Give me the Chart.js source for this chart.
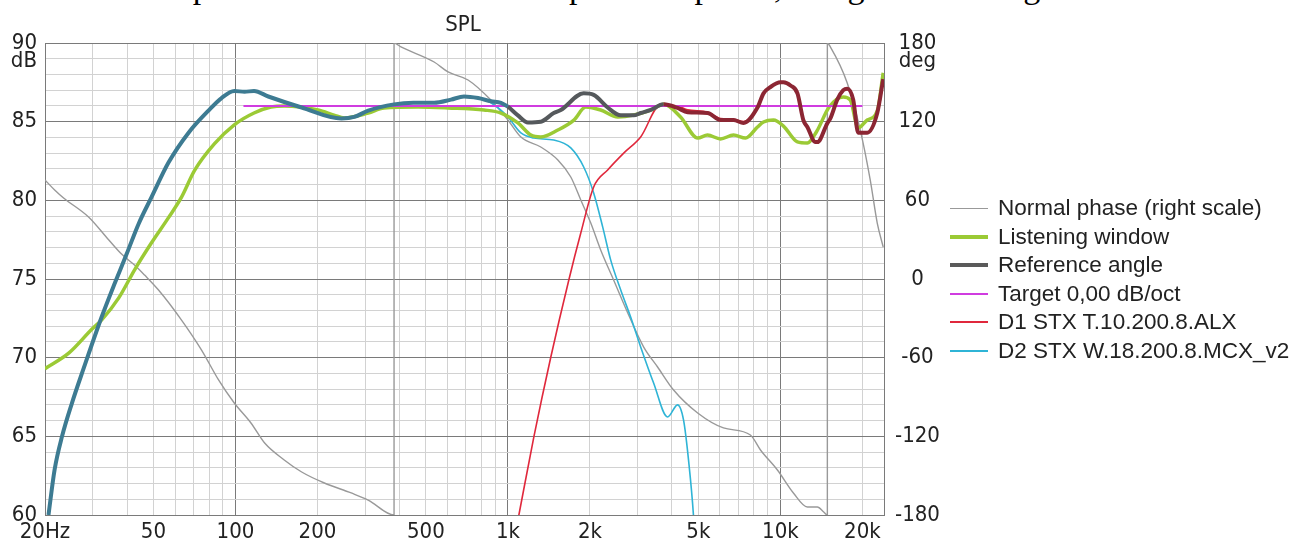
<!DOCTYPE html>
<html lang="en">
<head>
<meta charset="utf-8">
<script src="https://cdn.jsdelivr.net/npm/chart.js@4.4.1/dist/chart.umd.min.js"></script>
<style>
    html, body { margin: 0; padding: 0; background: #fff; }
    body { position: relative; width: 1298px; height: 544px; overflow: hidden; font-family: "Liberation Sans", Arial, sans-serif; }
    #chart { position: absolute; left: 0; top: 0; }
    .page-text { position: absolute; top: -30px; font: 34px/34px "Liberation Serif", "Times New Roman", serif; color: #000; white-space: nowrap; }
    #title { position: absolute; left: 463px; top: 11px; transform: translateX(-50%); font: 22px "Liberation Sans Narrow", "DejaVu Sans Condensed", "Liberation Sans", sans-serif; color: #222; }
    #legend { position: absolute; left: 950px; top: 194px; font-size: 22.5px; color: #222; }
    #legend .row { display: flex; align-items: center; height: 28.5px; white-space: nowrap; }
    #legend .swatch { display: inline-block; width: 38px; margin-right: 10px; }
</style>
</head>
<body>
<!-- clipped line of the surrounding document -->
<span class="page-text" style="left:3px">Simulated output of the crossover</span>
<span class="page-text" style="left:569px">phase response, using the listening window.</span>

<canvas id="chart" width="1298" height="544"></canvas>
<div id="title">SPL</div>
<div id="legend"></div>

<script type="text/javascript">
    // x axis labels
    var xTickValues = [20, 50, 100, 200, 500, 1000, 2000, 5000, 10000, 20000];
    var xTickText = ['20Hz', '50', '100', '200', '500', '1k', '2k', '5k', '10k', '20k'];

    // Reference angle (dB)
    var refFreq = [20.6, 21.7, 23.1, 25.1, 27.7, 32.3, 36, 39.9, 44.1, 49.2, 56.8, 67.3, 79.6, 88.9, 99, 108, 117, 132, 175, 245, 273, 307, 382, 450, 536, 618, 690, 777, 866, 943,
        1000, 1088, 1184, 1320, 1473, 1563, 1897, 2064, 2323, 2594, 2895, 3070, 3342, 3728, 4195, 4565, 5400, 6030, 6730, 7320, 8240, 8670, 9190,
        10000, 10260, 10890, 11550, 12140, 12560, 13440, 13670, 14870, 15250, 16170, 17010, 17590, 18500, 19300, 20830, 22670, 23840];
    var refDb = [60, 62.9, 65, 67.1, 69.3, 72.6, 74.7, 76.6, 78.5, 80.2, 82.4, 84.3, 85.7, 86.5, 86.95, 86.9, 86.95, 86.6, 85.9, 85.2, 85.3, 85.7, 86.1, 86.2, 86.2, 86.4, 86.6, 86.5, 86.3, 86.2,
        85.95, 85.4, 84.95, 85.0, 85.55, 85.74, 86.8, 86.7, 85.9, 85.4, 85.4, 85.55, 85.75, 86.1, 85.87, 85.6, 85.55, 85.1, 85.1, 84.92, 85.9, 86.8, 87.2,
        87.5, 87.5, 87.3, 86.8, 85.1, 84.66, 83.7, 83.7, 84.9, 85.2, 86.4, 87.0, 87.1, 86.4, 84.3, 84.3, 85.55, 87.7];

    // Listening window (dB)
    var lwFreq = [20, 24.5, 29.7, 32.3, 37.3, 42.7, 49.2, 56.8, 63.4, 70.8, 83.8, 99, 117, 135, 151, 201, 230, 251, 307, 351, 468, 603, 817, 943,
        1088, 1214, 1320, 1525, 1746, 1930, 2190, 2530, 2895, 3342, 3728, 4300, 4970, 5400, 6030, 6730, 7450, 8240, 8670, 9430,
        10260, 11550, 12560, 13550, 15100, 17010, 18040, 19300, 20830, 22670, 23840];
    var lwDb = [69.3, 70.3, 71.8, 72.4, 73.8, 75.6, 77.3, 78.9, 80.2, 81.9, 83.6, 84.8, 85.55, 85.93, 86.0, 85.74, 85.42, 85.23, 85.55, 85.87, 85.93, 85.87, 85.74, 85.55,
        84.92, 84.15, 84.03, 84.47, 85.1, 85.93, 85.74, 85.3, 85.42, 85.74, 86.1, 85.3, 83.96, 84.15, 83.9, 84.15, 83.96, 84.66, 84.98, 85.1,
        84.72, 83.71, 83.64, 84.34, 85.93, 86.57, 86.38, 84.6, 85.1, 85.68, 88.1];

    // Target 0,00 dB/oct
    var targetFreq = [107, 20000];
    var targetDb = [86, 86];

    // D1 tweeter (dB)
    var d1Freq = [1000, 1097, 1245, 1437, 1673, 1851, 2064, 2323, 2660, 3070, 3630, 4195, 4565, 5400, 6030, 6730, 7320, 8240, 8670, 9190,
        10000, 10260, 10890, 11550, 12140, 12560, 13440, 13670, 14870, 15250, 16170, 17010, 17590, 18500, 19300, 20830, 22670, 23840];
    var d1Db = [56.4, 60, 64.96, 70.04, 74.94, 77.92, 80.85, 81.93, 83.0, 84.03, 86.06, 86.0, 85.75, 85.6, 85.2, 85.15, 85.0, 85.9, 86.8, 87.2,
        87.5, 87.5, 87.3, 86.8, 85.1, 84.66, 83.7, 83.7, 84.9, 85.2, 86.4, 87.0, 87.1, 86.4, 84.3, 84.3, 85.55, 87.7];

    // D2 woofer (dB)
    var d2Freq = [20.6, 21.7, 23.1, 25.1, 27.7, 32.3, 36, 39.9, 44.1, 49.2, 56.8, 67.3, 79.6, 88.9, 99, 108, 117, 132, 175, 245, 273, 307, 382, 450, 536, 618, 690, 777, 866,
        1000, 1116, 1245, 1473, 1701, 1897, 2064, 2228, 2384, 2594, 2821, 3070, 3425, 3855, 4195, 4410, 4600, 4800, 4900];
    var d2Db = [60, 62.9, 65, 67.1, 69.3, 72.6, 74.7, 76.6, 78.5, 80.2, 82.4, 84.3, 85.7, 86.5, 86.95, 86.9, 86.95, 86.6, 85.9, 85.2, 85.3, 85.7, 86.1, 86.2, 86.2, 86.4, 86.6, 86.5, 86.2,
        85.3, 84.28, 83.96, 83.83, 83.33, 82.12, 80.47, 78.3, 76.2, 74.3, 72.58, 70.68, 68.39, 66.23, 67.0, 66.04, 63.5, 59.9, 57];

    // Normal phase (deg, right scale), wraps at 382 Hz and 14.87 kHz
    var phaseFreq = [20, 21.7, 23.4, 28.9, 34.3, 38.2, 42.7, 46.4, 52.2, 63.4, 75.1, 86.7, 99, 114, 128, 151, 175, 212, 266, 307, 382,
        382, 405, 536, 603, 714, 866, 1000, 1116, 1320, 1525, 1701, 1851, 2014, 2190, 2443, 2753, 3150, 3542, 4055, 4970, 6180, 7760, 8450, 9750, 11160, 12560, 13670, 14420, 14870,
        14870, 15250, 17590, 19640, 21370, 22670, 23840];
    var phaseDeg = [75.5, 67.9, 61.8, 47.3, 29.75, 19, 10.5, 3.0, -8.4, -31.3, -54.2, -77.0, -94.6, -109.8, -125.1, -138.0, -147.2, -155.6, -163.2, -168.6, -180,
        180, 177, 165.5, 157.9, 151.8, 136.5, 121.3, 108.3, 100.7, 90.8, 77.8, 60.3, 42.7, 22.1, -0.8, -25.9, -51.9, -67.1, -84.7, -102.2, -113.6, -119.0, -130.4, -145.7, -163.2, -173.9, -173.9, -177.7, -180,
        180, 177, 149.5, 113.6, 75.5, 42.7, 24.4];

    var majorGrid = '#7a7a7a';
    var minorGrid = '#d2d2d2';
    var tickFont = "'Liberation Sans Narrow', 'DejaVu Sans Condensed', 'Liberation Sans', sans-serif";

    function pts(xs, ys) {
        var out = [];
        for (var i = 0; i < xs.length; i++) {
            out.push({x: xs[i], y: ys[i]});
        }
        return out;
    }

    // frequencies for vertical grid lines, 1..9 per decade
    var gridFreqs = [];
    for (var dec = 10; dec <= 10000; dec *= 10) {
        for (var m = 1; m <= 9; m++) {
            var f = m * dec;
            if (f >= 20 && f <= 20000) gridFreqs.push(f);
        }
    }
    gridFreqs.push(24000);

    function refSegColor(ctx) {
        var f = ctx.p0.parsed.x;
        if (f < 1000) return '#3d7b92';
        if (f < 3700) return '#55595c';
        return '#8c2633';
    }

    var series = [
        {label: 'Normal phase (right scale)', data: pts(phaseFreq, phaseDeg), yAxisID: 'yPhase', borderColor: '#999999', borderWidth: 1.4, order: 5, clip: 0, swatch: 1.5},
        {label: 'Listening window', data: pts(lwFreq, lwDb), yAxisID: 'y', borderColor: '#9bca35', borderWidth: 3.5, order: 2, swatch: 4},
        {label: 'Reference angle', data: pts(refFreq, refDb), yAxisID: 'y', borderColor: '#5a5a5a', borderWidth: 4, order: 0, swatch: 4,
            segment: {borderColor: refSegColor}},
        {label: 'Target 0,00 dB/oct', data: pts(targetFreq, targetDb), yAxisID: 'y', borderColor: '#d03ce0', borderWidth: 2, order: 1, swatch: 2},
        {label: 'D1 STX T.10.200.8.ALX', data: pts(d1Freq, d1Db), yAxisID: 'y', borderColor: '#e0283c', borderWidth: 1.6, order: 3, clip: 0, swatch: 2},
        {label: 'D2 STX W.18.200.8.MCX_v2', data: pts(d2Freq, d2Db), yAxisID: 'y', borderColor: '#2fb4d6', borderWidth: 1.6, order: 4, clip: 0, swatch: 2}
    ];

    var datasets = series.map(function (s) {
        var d = {
            label: s.label, data: s.data, yAxisID: s.yAxisID,
            borderColor: s.borderColor, borderWidth: s.borderWidth,
            pointRadius: 0, fill: false, cubicInterpolationMode: 'monotone', order: s.order
        };
        if (s.clip !== undefined) d.clip = s.clip;
        if (s.segment) d.segment = s.segment;
        return d;
    });

    // legend
    var legendEl = document.getElementById('legend');
    series.forEach(function (s) {
        var row = document.createElement('div');
        row.className = 'row';
        row.innerHTML = '<span class="swatch" style="height:' + s.swatch + 'px;background:' + s.borderColor + '"></span>' + s.label;
        legendEl.appendChild(row);
    });

    new Chart(document.getElementById('chart'), {
        type: 'line',
        data: {datasets: datasets},
        options: {
            responsive: false,
            animation: false,
            devicePixelRatio: 1,
            layout: {padding: {top: 43, right: 352, bottom: 0, left: 0}},
            plugins: {legend: {display: false}, tooltip: {enabled: false}},
            scales: {
                x: {
                    type: 'logarithmic',
                    min: 20,
                    max: 24000,
                    afterBuildTicks: function (s) {
                        s.ticks = gridFreqs.map(function (v) { return {value: v}; });
                    },
                    afterFit: function (s) { s.height = 29; },
                    ticks: {
                        autoSkip: false, maxRotation: 0, minRotation: 0, padding: 4,
                        color: '#222', font: {family: tickFont, size: 22},
                        callback: function (v) {
                            var i = xTickValues.indexOf(v);
                            return i >= 0 ? xTickText[i] : '';
                        }
                    },
                    grid: {
                        drawTicks: false,
                        color: function (ctx) {
                            var v = ctx.tick ? ctx.tick.value : 0;
                            return (v === 20 || v === 100 || v === 1000 || v === 10000 || v === 24000) ? majorGrid : minorGrid;
                        }
                    },
                    border: {display: false}
                },
                y: {
                    position: 'left',
                    min: 60,
                    max: 90,
                    afterFit: function (s) { s.width = 45; },
                    ticks: {
                        stepSize: 1, autoSkip: false, padding: 8,
                        color: '#222', font: {family: tickFont, size: 22, lineHeight: 0.85},
                        callback: function (v) {
                            if (v % 5 !== 0) return '';
                            return v === 90 ? ['', '90', 'dB'] : String(v);
                        }
                    },
                    grid: {
                        drawTicks: false,
                        color: function (ctx) {
                            return ctx.tick && ctx.tick.value % 5 === 0 ? majorGrid : minorGrid;
                        }
                    },
                    border: {display: true, color: majorGrid}
                },
                yPhase: {
                    position: 'right',
                    min: -180,
                    max: 180,
                    afterFit: function (s) { s.width = 62; },
                    ticks: {
                        stepSize: 60, autoSkip: false, padding: 11, crossAlign: 'center',
                        color: '#222', font: {family: tickFont, size: 22, lineHeight: 0.85},
                        callback: function (v) {
                            return v === 180 ? ['', '180', 'deg'] : String(v);
                        }
                    },
                    grid: {display: false, drawTicks: false},
                    border: {display: true, color: majorGrid}
                }
            }
        }
    });
</script>
</body>
</html>
